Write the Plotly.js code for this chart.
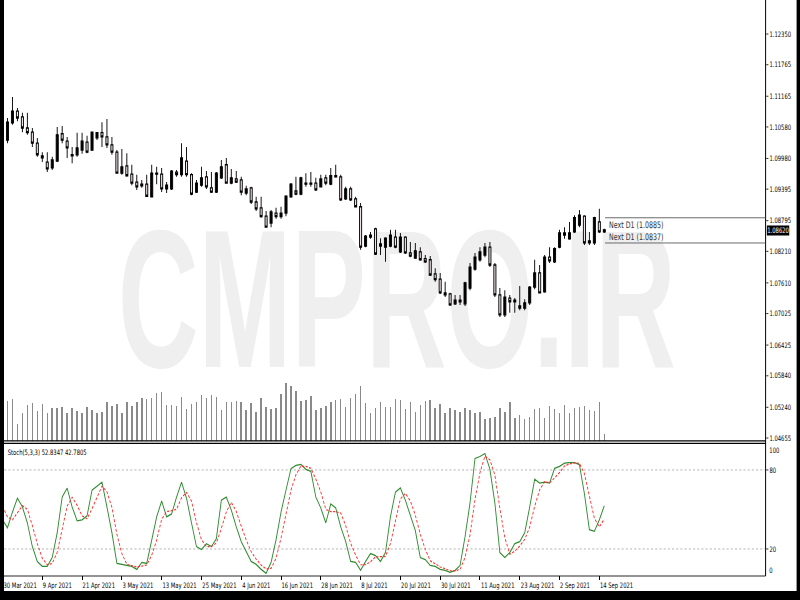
<!DOCTYPE html>
<html>
<head>
<meta charset="utf-8">
<script src="https://cdn.plot.ly/plotly-3.0.1.min.js"></script>
<style>
  html, body { margin: 0; padding: 0; background: #ffffff; }
  #wrap { position: relative; width: 800px; height: 600px; overflow: hidden; background: #ffffff; }
  #mark { position: absolute; left: 0; top: 0; z-index: 0; }
  #chart { position: absolute; left: 0; top: 0; width: 1143px; height: 600px; z-index: 1;
           transform: scaleX(0.7); transform-origin: 0 0; }
</style>
</head>
<body>
<div id="wrap">
  <svg id="mark" width="800" height="600">
    <text transform="translate(118,367) scale(0.5665,1)" font-family="Liberation Sans, Arial, sans-serif"
          font-size="197" font-weight="bold" fill="#efefef">CMPRO.IR</text>
  </svg>
  <div id="chart"></div>
</div>
<script>
// Daily bars, 30 Mar 2021 .. 15 Sep 2021
const openPrice = [
  1.1027,1.1033,1.1066,1.1088,1.1077,1.1056,1.1048,1.1027,1.1003,1.0991,
  1.0980,1.0993,1.1045,1.1031,1.1003,1.1005,1.1014,1.1029,1.1014,1.1037,
  1.1047,1.1039,1.1024,1.1010,1.0970,1.0984,1.0968,1.0953,1.0946,1.0949,
  1.0925,1.0968,1.0968,1.0940,1.0940,1.0972,1.0967,1.0993,1.0967,1.0934,
  1.0947,1.0963,1.0942,1.0934,1.0961,1.0986,1.0951,1.0959,1.0957,1.0932,
  1.0942,1.0915,1.0904,1.0888,1.0875,1.0894,1.0887,1.0894,1.0925,1.0936,
  1.0930,1.0949,1.0951,1.0951,1.0944,1.0961,1.0949,1.0963,1.0963,1.0921,
  1.0940,1.0921,1.0906,1.0831,1.0852,1.0864,1.0831,1.0829,1.0831,1.0848,
  1.0820,1.0848,1.0818,1.0808,1.0820,1.0807,1.0805,1.0778,1.0768,1.0742,
  1.0740,1.0721,1.0725,1.0721,1.0751,1.0787,1.0805,1.0814,1.0829,1.0795,
  1.0738,1.0700,1.0732,1.0725,1.0717,1.0713,1.0723,1.0753,1.0780,1.0744,
  1.0810,1.0801,1.0829,1.0852,1.0845,1.0858,1.0871,1.0888,1.0837,1.0837,
  1.0877,1.0858
];
const highPrice = [
  1.1047,1.1075,1.1115,1.1094,1.1085,1.1085,1.1056,1.1037,1.1010,1.1010,
  1.1001,1.1058,1.1060,1.1039,1.1020,1.1047,1.1047,1.1041,1.1048,1.1048,
  1.1067,1.1073,1.1039,1.1014,1.1016,1.1008,1.0986,1.0967,1.0957,1.0967,
  1.0986,1.0982,1.0980,1.0953,1.0976,1.0976,1.1027,1.1020,1.0970,1.0957,
  1.0982,1.0974,1.0972,1.0972,1.0995,1.0999,1.0978,1.0974,1.0963,1.0946,
  1.0944,1.0925,1.0925,1.0898,1.0900,1.0904,1.0906,1.0928,1.0951,1.0963,
  1.0963,1.0970,1.0972,1.0961,1.0967,1.0967,1.0980,1.0986,1.0967,1.0944,
  1.0944,1.0925,1.0913,1.0852,1.0858,1.0866,1.0846,1.0848,1.0862,1.0862,
  1.0856,1.0850,1.0839,1.0837,1.0829,1.0814,1.0812,1.0789,1.0780,1.0763,
  1.0742,1.0738,1.0738,1.0763,1.0799,1.0818,1.0829,1.0837,1.0839,1.0799,
  1.0751,1.0747,1.0738,1.0732,1.0755,1.0730,1.0755,1.0805,1.0795,1.0814,
  1.0829,1.0829,1.0862,1.0867,1.0877,1.0890,1.0900,1.0890,1.0858,1.0887,
  1.0902,1.0864
];
const lowPrice = [
  1.1024,1.1027,1.1062,1.1069,1.1048,1.1043,1.1020,1.1001,1.0991,1.0972,
  1.0976,1.0991,1.1027,1.0999,1.0989,1.1001,1.1007,1.1008,1.1012,1.1033,
  1.1020,1.1018,1.1005,1.0970,1.0967,1.0963,1.0947,1.0938,1.0942,1.0925,
  1.0925,1.0949,1.0934,1.0932,1.0938,1.0963,1.0963,1.0963,1.0928,1.0932,
  1.0944,1.0940,1.0932,1.0932,1.0959,1.0951,1.0949,1.0951,1.0928,1.0928,
  1.0911,1.0898,1.0885,1.0866,1.0867,1.0883,1.0883,1.0888,1.0923,1.0928,
  1.0928,1.0944,1.0944,1.0936,1.0944,1.0947,1.0947,1.0961,1.0917,1.0919,
  1.0917,1.0906,1.0824,1.0829,1.0845,1.0814,1.0814,1.0801,1.0829,1.0827,
  1.0818,1.0816,1.0810,1.0807,1.0803,1.0799,1.0774,1.0763,1.0740,1.0734,
  1.0717,1.0719,1.0719,1.0717,1.0747,1.0784,1.0801,1.0810,1.0791,1.0734,
  1.0696,1.0696,1.0704,1.0704,1.0709,1.0709,1.0719,1.0749,1.0742,1.0742,
  1.0799,1.0799,1.0827,1.0845,1.0843,1.0856,1.0867,1.0833,1.0833,1.0833,
  1.0856,1.0856
];
const closePrice = [
  1.1033,1.1067,1.1088,1.1075,1.1056,1.1047,1.1027,1.1005,1.0999,1.0978,
  1.0995,1.1043,1.1033,1.1018,1.1005,1.1018,1.1031,1.1010,1.1048,1.1047,
  1.1039,1.1024,1.1010,1.0970,1.0982,1.0965,1.0951,1.0944,1.0949,1.0926,
  1.0970,1.0970,1.0940,1.0947,1.0974,1.0967,1.0999,1.0967,1.0930,1.0951,
  1.0961,1.0944,1.0934,1.0970,1.0982,1.0951,1.0961,1.0953,1.0934,1.0940,
  1.0915,1.0902,1.0887,1.0867,1.0896,1.0887,1.0894,1.0926,1.0949,1.0930,
  1.0961,1.0951,1.0949,1.0938,1.0959,1.0951,1.0965,1.0965,1.0919,1.0940,
  1.0919,1.0906,1.0829,1.0850,1.0848,1.0816,1.0835,1.0846,1.0852,1.0829,
  1.0848,1.0818,1.0812,1.0822,1.0805,1.0801,1.0776,1.0767,1.0742,1.0738,
  1.0719,1.0728,1.0728,1.0761,1.0791,1.0810,1.0820,1.0829,1.0795,1.0738,
  1.0700,1.0734,1.0725,1.0728,1.0713,1.0723,1.0753,1.0780,1.0742,1.0810,
  1.0803,1.0826,1.0856,1.0856,1.0856,1.0885,1.0890,1.0837,1.0841,1.0885,
  1.0858,1.0862
];
// Tick volume, thousands
const tickVolume = [
  38,40.3,42,17,28.3,36,37.7,30,36.7,28.3,
  32.7,32.7,33.7,28.3,32.7,30,28.3,33.7,31,28.3,
  29.3,39.3,35,36.7,27.7,38.7,35,38.7,43,42,
  43.3,47.7,48.7,36,36,35,44.3,31.7,36.7,39.3,
  46,43.3,46,44.3,31,38.7,39.3,40,39.3,31,
  37.7,29.3,43.3,33.7,31.7,32.7,47,58.3,55,50,
  40.3,41,45.3,31,32.7,35,39.3,41,42,33.7,
  43,47,55,37.7,28.3,32.7,38.7,33.7,33.7,42,
  41,31.7,39.3,28.7,36,40,41,32.7,36.7,28.3,
  32.7,31,28.7,32.7,31,28.3,28.7,21.7,22.7,24.3,
  32.7,29.3,39.3,22.7,26,21.7,24.3,31.7,32.7,22.7,
  35,31.7,28.3,36,28.3,33.3,34.3,35,31,30,
  38.7,6.7
];
// Stochastic(5,3,3): main (%K) and signal (%D)
const stochMain = [
  42.1,36.1,48,58.6,51.9,39.8,21.8,10.5,6.8,6.8,
  13.5,32.3,59.4,66.2,51.9,41.4,42.1,45.1,64.7,67.7,
  70.7,51.9,32.3,9,8.3,7.5,6.8,4.5,9.8,9,
  27,44.4,56.4,44.4,46.6,59.4,70.7,58.6,39.8,21.8,
  19.5,24,21.8,27.8,57.1,59.4,49.6,36.8,25.6,18,
  10.5,8.3,4.5,1.5,9.8,27,48,64.7,81,83.5,
  84.2,80.5,79,59.4,51.1,39.8,54.1,51.1,36.8,25.6,
  10.5,9.8,3.8,10.5,16.5,15,10.5,17.3,44.4,63.2,
  66.4,57,46,34,13.5,12,7.5,6.8,4.5,3.8,
  2.2,3.8,7.5,29.3,54.9,88.7,90.2,92.5,80.5,54.9,
  17.3,13.5,17.3,24,25.6,32.3,51.9,72.9,70,70.7,
  70,81.2,82.7,85.2,85.5,85.5,84,62,34.6,33.4,
  42.1,52.8347
];
const stochSignal = [
  52.4,44.4,42.1,47.6,52.8,50.1,37.8,24.0,13.0,8.0,
  9.0,17.5,35.1,52.6,59.2,53.2,45.1,42.9,50.6,59.2,
  67.7,63.4,51.6,31.1,16.5,8.3,7.5,6.3,7.0,7.8,
  15.3,26.8,42.6,48.4,49.1,50.1,58.9,62.9,56.4,40.1,
  27.0,21.8,21.8,24.5,35.6,48.1,55.4,48.6,37.3,26.8,
  18.0,12.3,7.8,4.8,5.3,12.8,28.3,46.6,64.6,76.4,
  82.9,82.7,81.2,73.0,63.2,50.1,48.3,48.3,47.3,37.8,
  24.3,15.3,8.0,8.0,10.3,14.0,14.0,14.3,24.1,41.6,
  58.0,62.2,56.5,45.7,31.2,19.8,11.0,8.8,6.3,5.0,
  3.5,3.3,4.5,13.5,30.6,57.6,77.9,90.5,87.7,76.0,
  50.9,28.6,16.0,18.3,22.3,27.3,36.6,52.4,64.9,71.2,
  70.2,74.0,78.0,83.0,84.5,85.4,85.0,77.2,60.2,43.3,
  36.7,42.7805
];
const priceTicks = [1.12350,1.11765,1.11165,1.10580,1.09980,1.09395,1.08795,
                    1.08210,1.07610,1.07025,1.06425,1.05840,1.05240,1.04655];
const stochLevels = [20, 80];
const tickDates = ['2021-03-30','2021-04-09','2021-04-21','2021-05-03','2021-05-13','2021-05-25',
                   '2021-06-04','2021-06-16','2021-06-28','2021-07-08','2021-07-20','2021-07-30',
                   '2021-08-11','2021-08-23','2021-09-02','2021-09-14'];
const tickLabels = ['30 Mar 2021','9 Apr 2021','21 Apr 2021','3 May 2021','13 May 2021','25 May 2021',
                    '4 Jun 2021','16 Jun 2021','28 Jun 2021','8 Jul 2021','20 Jul 2021','30 Jul 2021',
                    '11 Aug 2021','23 Aug 2021','2 Sep 2021','14 Sep 2021'];
const nextD1 = [1.0885, 1.0837];

// weekday calendar for the bars
function tradingDays(start, n) {
  const out = [];
  const d = new Date(start + 'T00:00:00Z');
  while (out.length < n) {
    const wd = d.getUTCDay();
    if (wd !== 0 && wd !== 6) out.push(d.toISOString().slice(0, 10));
    d.setUTCDate(d.getUTCDate() + 1);
  }
  return out;
}
const dates = tradingDays('2021-03-30', closePrice.length);

// paper coordinates from screen pixels (chart is squeezed horizontally by CSS)
const fx = v => v / 800;
const fy = v => 1 - v / 600;
const AX = 'DejaVu Sans, Verdana, sans-serif';
const RIGHT = 765.5;
const VW = 1.43; // vertical stroke width before the horizontal squeeze

const traces = [
  { type: 'bar', x: dates, y: tickVolume, xaxis: 'x', yaxis: 'y3', width: 0.3,
    marker: { color: '#8a8a8a', line: { width: 0 } }, hoverinfo: 'skip' },
  { type: 'candlestick', x: dates, open: openPrice, high: highPrice, low: lowPrice, close: closePrice,
    xaxis: 'x', yaxis: 'y', whiskerwidth: 0,
    increasing: { line: { color: '#000000', width: 1.3 }, fillcolor: '#000000' },
    decreasing: { line: { color: '#000000', width: 1.3 }, fillcolor: '#f0e4e4' } },
  { type: 'scatter', mode: 'lines', x: dates, y: stochMain, xaxis: 'x', yaxis: 'y2',
    line: { color: '#2e8b2e', width: 1.3 } },
  { type: 'scatter', mode: 'lines', x: dates, y: stochSignal, xaxis: 'x', yaxis: 'y2',
    line: { color: '#ff2a2a', width: 1.2, dash: '3px,2px' } }
];

const last = closePrice.length - 1;
const shapes = [
  // panel borders
  { type: 'line', xref: 'paper', yref: 'paper', x0: 0, x1: fx(RIGHT), y0: fy(440.8), y1: fy(440.8), line: { color: '#000', width: 1.2 } },
  { type: 'line', xref: 'paper', yref: 'paper', x0: 0, x1: fx(RIGHT), y0: fy(443.3), y1: fy(443.3), line: { color: '#000', width: 1.2 } },
  { type: 'line', xref: 'paper', yref: 'paper', x0: 0, x1: fx(RIGHT), y0: fy(576), y1: fy(576), line: { color: '#000', width: 1 } },
  { type: 'line', xref: 'paper', yref: 'paper', x0: fx(RIGHT), x1: fx(RIGHT), y0: fy(0), y1: fy(576), line: { color: '#000', width: VW } },
  // Next D1 levels
  { type: 'line', xref: 'paper', yref: 'y', x0: fx(605), x1: fx(RIGHT), y0: nextD1[0], y1: nextD1[0], line: { color: '#505050', width: 1 } },
  { type: 'line', xref: 'paper', yref: 'y', x0: fx(605), x1: fx(RIGHT), y0: nextD1[1], y1: nextD1[1], line: { color: '#505050', width: 1 } },
  // window frame
  { type: 'rect', xref: 'paper', yref: 'paper', x0: 0, x1: fx(4), y0: 0, y1: 1, fillcolor: '#000', line: { width: 0 }, layer: 'above' },
  { type: 'rect', xref: 'paper', yref: 'paper', x0: fx(796.5), x1: 1.01, y0: 0, y1: 1, fillcolor: '#000', line: { width: 0 }, layer: 'above' },
  { type: 'rect', xref: 'paper', yref: 'paper', x0: 0, x1: 1.01, y0: -0.01, y1: fy(591), fillcolor: '#000', line: { width: 0 }, layer: 'above' }
];

const annotations = [
  { xref: 'paper', yref: 'paper', x: fx(6), y: fy(452.5), xanchor: 'left', yanchor: 'middle', showarrow: false,
    text: 'Stoch(5,3,3) ' + stochMain[last].toFixed(4) + ' ' + stochSignal[last].toFixed(4),
    font: { family: AX, size: 7.5, color: '#000' } },
  { xref: 'paper', yref: 'paper', x: fx(767.5), y: fy(450), xanchor: 'left', yanchor: 'middle', showarrow: false,
    text: '100', font: { family: AX, size: 7.5, color: '#000' } },
  { xref: 'paper', yref: 'paper', x: fx(767.5), y: fy(570.5), xanchor: 'left', yanchor: 'middle', showarrow: false,
    text: '0', font: { family: AX, size: 7.5, color: '#000' } },
  { xref: 'paper', yref: 'y', x: fx(766.5), y: closePrice[last], yshift: -1, xanchor: 'left', yanchor: 'middle', showarrow: false,
    text: closePrice[last].toFixed(5), bgcolor: '#000000', borderpad: 0,
    font: { family: AX, size: 7.5, color: '#ffffff' } },
  { xref: 'paper', yref: 'paper', x: fx(608.5), y: fy(224.8), xanchor: 'left', yanchor: 'middle', showarrow: false,
    borderpad: 0, text: 'Next D1 (' + nextD1[0].toFixed(4) + ')', font: { family: AX, size: 9, color: '#303030' } },
  { xref: 'paper', yref: 'paper', x: fx(608.5), y: fy(236.8), xanchor: 'left', yanchor: 'middle', showarrow: false,
    borderpad: 0, text: 'Next D1 (' + nextD1[1].toFixed(4) + ')', font: { family: AX, size: 9, color: '#303030' } }
];
// date labels, left-aligned at their ticks
tickDates.forEach((d, k) => {
  annotations.push({ xref: 'x', yref: 'paper', x: dates.indexOf(d), y: fy(585.8),
    xanchor: 'left', yanchor: 'middle', showarrow: false, borderpad: 0,
    text: tickLabels[k], font: { family: AX, size: 7.5, color: '#000' } });
});

const layout = {
  width: 1143, height: 600,
  margin: { l: 0, r: 0, t: 0, b: 0, pad: 0 },
  paper_bgcolor: 'rgba(0,0,0,0)', plot_bgcolor: 'rgba(0,0,0,0)',
  showlegend: false, dragmode: false, boxgap: 0.4, bargap: 0,
  xaxis: {
    type: 'category', domain: [0, fx(RIGHT)], range: [-0.503, 153.43], anchor: 'y2',
    tickmode: 'array', tickvals: tickDates, showticklabels: false,
    ticks: 'outside', ticklen: 4, tickwidth: VW, tickcolor: '#000',
    showgrid: false, zeroline: false, showline: false,
    rangeslider: { visible: false }, fixedrange: true
  },
  yaxis: {
    domain: [fy(441), 1], range: [1.04598, 1.12998], side: 'right', anchor: 'x',
    tickmode: 'array', tickvals: priceTicks, tickformat: '.5f',
    ticks: 'outside', ticklen: 3, tickcolor: '#000', tickwidth: 1,
    tickfont: { family: AX, size: 7.5, color: '#000' },
    showgrid: false, zeroline: false, showline: false, fixedrange: true
  },
  yaxis3: { overlaying: 'y', range: [0, 441], visible: false, fixedrange: true },
  yaxis2: {
    domain: [fy(575.3), fy(443.6)], range: [0, 100], side: 'right', anchor: 'x',
    tickmode: 'array', tickvals: stochLevels,
    ticks: 'outside', ticklen: 3, tickcolor: '#000', tickwidth: 1,
    tickfont: { family: AX, size: 7.5, color: '#000' },
    showgrid: true, gridcolor: '#a8a8a8', gridwidth: 1, griddash: 'dot',
    zeroline: false, showline: false, fixedrange: true
  },
  shapes: shapes,
  annotations: annotations
};

Plotly.newPlot('chart', traces, layout, { staticPlot: true, displayModeBar: false });
</script>
</body>
</html>
